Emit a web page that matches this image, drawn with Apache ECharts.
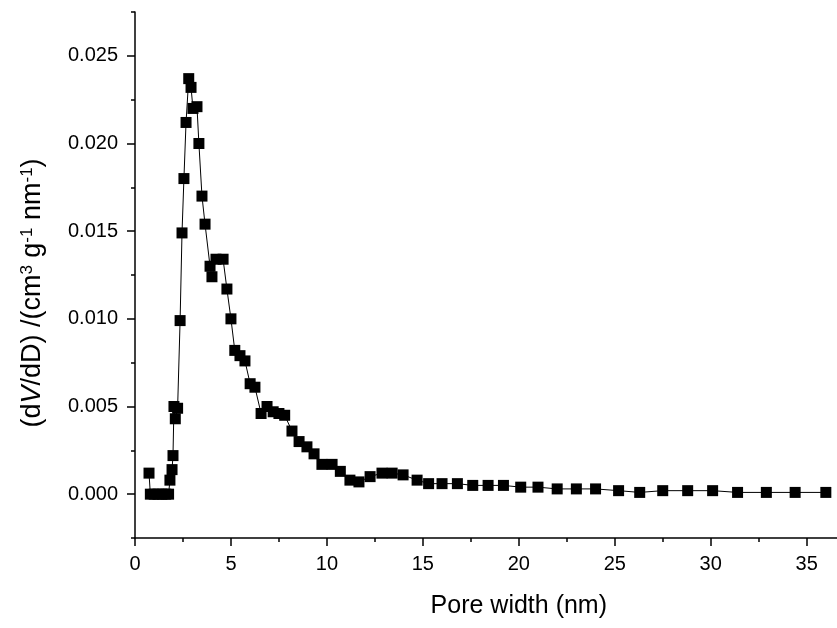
<!DOCTYPE html>
<html>
<head>
<meta charset="utf-8">
<script src="https://cdn.jsdelivr.net/npm/echarts@6/dist/echarts.min.js"></script>
<style>html,body{margin:0;padding:0;background:#fff}#c{width:837px;height:628px}</style>
</head>
<body>
<div id="c"></div>
<script>
const poreWidth = [0.73, 0.8, 1.0, 1.2, 1.4, 1.6, 1.75, 1.82, 1.93, 1.98, 2.03, 2.1, 2.22, 2.35, 2.45, 2.55, 2.66, 2.8, 2.92, 3.02, 3.23, 3.33, 3.49, 3.65, 3.91, 4.01, 4.22, 4.59, 4.79, 5.0, 5.2, 5.47, 5.73, 6.0, 6.25, 6.57, 6.88, 7.2, 7.5, 7.8, 8.18, 8.55, 8.96, 9.33, 9.74, 10.27, 10.7, 11.2, 11.67, 12.25, 12.87, 13.4, 13.97, 14.7, 15.3, 16.0, 16.8, 17.6, 18.4, 19.2, 20.1, 21.0, 22.0, 23.0, 24.0, 25.2, 26.3, 27.5, 28.8, 30.1, 31.4, 32.9, 34.4, 36.0];
const dVdD = [0.0012, 0, 0, 0, 0, 0, 0, 0.0008, 0.0014, 0.0022, 0.0050, 0.0043, 0.0049, 0.0099, 0.0149, 0.0180, 0.0212, 0.0237, 0.0232, 0.0220, 0.0221, 0.0200, 0.0170, 0.0154, 0.0130, 0.0124, 0.0134, 0.0134, 0.0117, 0.0100, 0.0082, 0.0079, 0.0076, 0.0063, 0.0061, 0.0046, 0.0050, 0.0047, 0.0046, 0.0045, 0.0036, 0.0030, 0.0027, 0.0023, 0.0017, 0.0017, 0.0013, 0.0008, 0.0007, 0.0010, 0.0012, 0.0012, 0.0011, 0.0008, 0.0006, 0.0006, 0.0006, 0.0005, 0.0005, 0.0005, 0.0004, 0.0004, 0.0003, 0.0003, 0.0003, 0.0002, 0.0001, 0.0002, 0.0002, 0.0002, 0.0001, 0.0001, 0.0001, 0.0001];
const yMajorTicks = [0, 0.005, 0.01, 0.015, 0.02, 0.025];
const yMinorTicks = [-0.0025, 0.0025, 0.0075, 0.0125, 0.0175, 0.0225, 0.0275];
const xTitle = 'Pore width (nm)';
const yTitle = '(d{i|V}/dD) /(cm{sup|3} g{sup|-1} nm{sup|-1})';

const FONT = 'Arial, "Liberation Sans", sans-serif';
const chart = echarts.init(document.getElementById('c'), null, {renderer: 'canvas'});
const yMin = -0.0025, yMax = 0.0275;
chart.setOption({
  animation: false,
  backgroundColor: '#fff',
  grid: {left: 135, top: 12, right: -65.6, bottom: 90, containLabel: false, outerBoundsMode: 'none'},
  xAxis: {
    type: 'value', min: 0, max: 40, interval: 5,
    axisLine: {onZero: false, lineStyle: {color: '#000', width: 1.5}},
    axisTick: {length: 8, lineStyle: {color: '#000', width: 1.5}},
    minorTick: {show: true, splitNumber: 2, length: 4, lineStyle: {color: '#000', width: 1.5}},
    splitLine: {show: false},
    axisLabel: {color: '#000', fontSize: 20, fontFamily: FONT, margin: 16},
    name: xTitle, nameLocation: 'middle', nameGap: 56,
    nameTextStyle: {color: '#000', fontSize: 25, fontFamily: FONT}
  },
  yAxis: [{
    type: 'value', min: yMin, max: yMax,
    axisLine: {onZero: false, lineStyle: {color: '#000', width: 1.5}},
    axisTick: {length: 8, customValues: yMajorTicks, lineStyle: {color: '#000', width: 1.5}},
    splitLine: {show: false},
    axisLabel: {color: '#000', fontSize: 20, fontFamily: FONT, margin: 17, customValues: yMajorTicks,
      formatter: v => v.toFixed(3)},
    name: yTitle, nameLocation: 'middle', nameGap: 89, nameRotate: 90,
    nameTextStyle: {color: '#000', fontSize: 27, fontFamily: FONT, padding: [0, 36, 0, 0],
      rich: {
        i: {fontStyle: 'italic', fontSize: 27, fontFamily: FONT, color: '#000'},
        sup: {fontSize: 17, fontFamily: FONT, color: '#000', verticalAlign: 'top'}
      }}
  }, {
    type: 'value', min: yMin, max: yMax, position: 'left',
    axisLine: {show: false},
    axisTick: {show: true, length: 4, customValues: yMinorTicks, lineStyle: {color: '#000', width: 1.5}},
    axisLabel: {show: false},
    splitLine: {show: false}
  }],
  series: [{
    type: 'line',
    data: poreWidth.map((x, i) => [x, dVdD[i]]),
    symbol: 'rect', symbolSize: 11, showAllSymbol: true,
    lineStyle: {color: '#000', width: 1},
    itemStyle: {color: '#000'},
    clip: false
  }]
});
</script>
</body>
</html>
